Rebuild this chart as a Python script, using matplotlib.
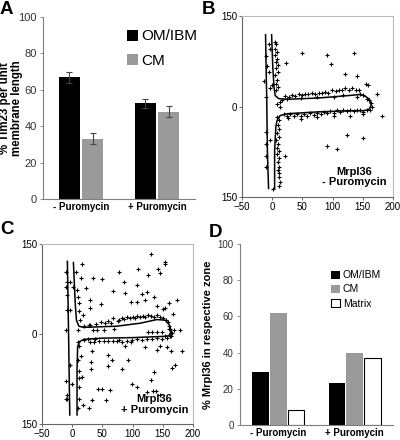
import matplotlib
matplotlib.use("Agg")
import matplotlib.pyplot as plt
from matplotlib.patches import Patch

plt.rcParams['font.family'] = ['Liberation Sans', 'DejaVu Sans']

# ---------------- data ----------------
groups = ['- Puromycin', '+ Puromycin']

# Panel A
a_series = ['OM/IBM', 'CM']
a_om = [67, 52.5]
a_om_err = [3, 2.5]
a_cm = [33, 48]
a_cm_err = [3, 3]

# Panel D
d_series = ['OM/IBM', 'CM', 'Matrix']
d_om = [29.5, 23]
d_cm = [62, 40]
d_mx = [8.5, 37]

# Panel B scatter (- Puromycin)
b_x = [-5, -3, -10, -9, -5, -13, -11, 0, -3,
       4, 7, 5, 8, 5, 8, 6, 9, 7, 10, 5, 8, 7, 10, 7, 23,
       -11, -10, -11, -10, -3,
       8, 11, 10, 12, 8, 11, 7, 10, 8, 11, 8, 11, 9, 12, 10, 12, 11, 13, 11, 1, 22,
       49, 90, 97, 136, 121, 141, 155, 158, 173, 181, 124, 150, 90, 108,
       22, 27, 33, 38, 44, 49, 55, 60, 66, 71, 77, 82, 88, 93, 99, 105, 110, 115, 121, 127,
       132, 138, 143, 146, 151, 157, 161, 164, 165, 162,
       25, 47, 74, 102, 118, 140, 16, 13, 13, 8,
       19, 25, 30, 36, 41, 47, 52, 58, 63, 69, 74, 80, 85, 91, 96, 102, 107, 113, 118, 124,
       129, 135, 140, 146, 151, 157,
       26, 47, 74, 102, 129, 151]
b_y = [104, 96, 83, 67, 57, 43, 16, 35, 30,
       107, 104, 96, 90, 85, 79, 74, 68, 63, 57, 52, 44, 38, 32, 27, 72,
       -42, -62, -82, -100, -56,
       -17, -23, -31, -37, -44, -51, -56, -62, -68, -74, -79, -86, -92, -100, -106, -111, -117, -125, -131, -136, -82,
       88, 86, 71, 89, 54, 50, 37, 35, 21, -16, -47, -52, -66, -71,
       17, 16, 19, 17, 20, 19, 21, 20, 22, 21, 23, 22, 24, 23, 27, 26, 28, 27, 30, 28,
       30, 27, 28, 21, 19, 13, 10, 5, -1, -5,
       12, 14, 15, 16, 19, 16, 10, 7, -1, 4,
       -13, -15, -12, -16, -13, -15, -12, -15, -11, -14, -11, -13, -9, -11, -7, -10, -6, -9, -6, -8,
       -5, -7, -5, -6, -9, -6,
       -19, -20, -17, -15, -15, -12]

# Panel B membrane outline
b_stem_x = [-11, -10, -9, -8, -6]
b_stem_y = [119, 60, 10, -73, -136]
b_cont_x = [-1, 1, 3, 5, 11, 25, 50, 75, 100, 125, 146, 154, 161, 164, 160, 151, 129,
            74, 25, 13, 8, 6, 4, 4]
b_cont_y = [119, 65, 32, 18, 13, 12, 13, 14, 16, 18, 20, 17, 12, 2, -5, -7, -7,
            -9, -12, -15, -23, -34, -73, -136]

# Panel C scatter (+ Puromycin)
c_x = [17, -10, 7, 15, -9, -4, 1, -11, 8, 23, 34, 49, 77, 67, -9, 10, 29, 48, 29, 11, -9, -4, 12, 18, 13, -10, 10,
       27, 48, 60, 67, 75, 34, 41, 52, 69,
       130, 153, 153, 109, 126, 142, 145, 86, 108, 88, 116, 124, 135, 98, 108, 121, 141, 153, 160, 173, 167, 150,
       77, 82, 86, 91, 95, 100, 104, 108, 112, 117, 121, 126, 130, 135, 140, 145, 150, 155, 158, 160, 162, 165, 163,
       126, 132, 140, 149, 160, 168, 179, 154, 164,
       20, 30, 40, 55, 65,
       -4, -10, 0, -9, -11, -8, 9, 12, 10, 12, 12, 11, 17, 18, 27, 32, 31, 31, 32, 43, 50, 63, 56, 59, 60, 66,
       36, 44, 52, 60, 67, 74, 12, 15, 10,
       83, 92, 99, 107, 124, 133, 139, 146, 136, 130, 166, 170, 182, 164, 140, 145, 157, 121, 88, 98,
       77, 83, 91, 99, 108, 116, 124, 132, 140, 149, 157, 162,
       19, 26, 30, 38]
c_y = [117, 103, 103, 94, 86, 86, 79, 78, 74, 76, 94, 92, 104, 71, 65, 62, 57, 50, 44, 52, 40, 40, 39, 31, 23, 6, 6,
       15, 20, 21, 26, 22, 7, 7, 7, 9,
       133, 120, 117, 108, 99, 108, 101, 86, 82, 69, 66, 70, 62, 53, 53, 57, 47, 44, 51, 56, 34, 41,
       24, 27, 25, 28, 26, 29, 27, 30, 28, 30, 29, 31, 30, 29, 31, 28, 27, 24, 20, 14, 8, 2, -3,
       4, 4, 4, 4, 9, 7, 7, -4, 1,
       14, 15, 16, 18, 19,
       -51, -78, -84, -101, -109, -109, -13, -108, -124, -74, -89, -62, -71, -118, -123, -28, -47, -58, -110, -92,
       -91, -93, -110, -54, -35, -43,
       -14, -12, -12, -12, -12, -12, -20, -36, -43,
       -58, -43, -84, -88, -96, -95, -95, -101, -63, -76, -57, -51, -29, -29, -27, -20, -21, -21, -20, -13,
       -10, -14, -12, -10, -9, -10, -8, -9, -7, -8, -6, -4,
       -10, -9, -13, -9]

# Panel C membrane outline
c_stem_x = [-8, -7, -6, -5, -4]
c_stem_y = [121, 60, 0, -70, -135]
c_cont_x = [2, 5, 7, 11, 19, 74, 113, 140, 154, 161, 164, 160, 151, 102, 47, 19, 12, 9, 8, 8]
c_cont_y = [119, 51, 23, 13, 11, 13, 18, 24, 23, 15, 4, -3, -4, -6, -7, -9, -13, -21, -60, -135]

GRAY = '#9a9a9a'
AXC = '#808080'

fig = plt.figure(figsize=(4.0, 4.4), dpi=100)

# ---------------- Panel A ----------------
axA = fig.add_axes([0.1075, 0.5477, 0.38, 0.4137])
xs = range(len(groups))
w = 0.28
off = 0.152
axA.bar([x - off for x in xs], a_om, w, color='black', yerr=a_om_err,
        error_kw=dict(ecolor='#444444', elinewidth=0.8, capsize=2, capthick=0.8))
axA.bar([x + off for x in xs], a_cm, w, color=GRAY, yerr=a_cm_err,
        error_kw=dict(ecolor='#444444', elinewidth=0.8, capsize=2, capthick=0.8))
axA.set_xlim(-0.5, 1.5)
axA.set_ylim(0, 100)
axA.set_yticks(range(0, 101, 20))
axA.set_xticks(list(xs))
axA.set_xticklabels(groups, fontsize=7, fontweight='bold')
axA.tick_params(axis='x', length=0, pad=2)
axA.tick_params(axis='y', labelsize=8, length=2.5, width=0.6, color=AXC, pad=2, labelcolor='#333333')
for s in ['top', 'right']:
    axA.spines[s].set_visible(False)
for s in ['left', 'bottom']:
    axA.spines[s].set_color(AXC)
    axA.spines[s].set_linewidth(0.8)
axA.set_ylabel('% Tim23 per unit\nmembrane length', fontsize=8.3, fontweight='bold',
               linespacing=1.0)
axA.yaxis.set_label_coords(-0.13, 0.5)
axA.legend(handles=[Patch(facecolor='black', label='OM/IBM'), Patch(facecolor=GRAY, label='CM')],
           loc='upper left', bbox_to_anchor=(0.48, 0.99), frameon=False, fontsize=11,
           handlelength=0.75, handleheight=0.75, handletextpad=0.2, labelspacing=0.7, borderpad=0.2)


def scatter_panel(ax, px, py, sx, sy, cx, cy, label):
    ax.plot(sx, sy, color='black', lw=1.1)
    ax.plot(cx, cy, color='black', lw=1.1)
    ax.plot(px, py, linestyle='none', marker='+', ms=2.6, mew=0.8, color='black')
    ax.set_xlim(-50, 200)
    ax.set_ylim(-150, 150)
    ax.set_xticks([-50, 0, 50, 100, 150, 200])
    ax.set_yticks([-150, 0, 150])
    ax.set_yticklabels(['150', '0', '150'])
    ax.tick_params(labelsize=7, length=2, width=0.6, pad=1.5, color='#555555')
    for s in ['top', 'right']:
        ax.spines[s].set_color('#bbbbbb')
        ax.spines[s].set_linewidth(0.8)
    for s in ['left', 'bottom']:
        ax.spines[s].set_color('#666666')
        ax.spines[s].set_linewidth(0.8)
    ax.text(0.745, 0.11, label, transform=ax.transAxes, ha='center', va='center',
            fontsize=8, fontweight='bold', linespacing=1.1)


# ---------------- Panel B ----------------
axB = fig.add_axes([0.605, 0.5523, 0.3775, 0.4113])
scatter_panel(axB, b_x, b_y, b_stem_x, b_stem_y, b_cont_x, b_cont_y, 'Mrpl36\n- Puromycin')

# ---------------- Panel C ----------------
axC = fig.add_axes([0.105, 0.0364, 0.3775, 0.4091])
scatter_panel(axC, c_x, c_y, c_stem_x, c_stem_y, c_cont_x, c_cont_y, 'Mrpl36\n+ Puromycin')

# ---------------- Panel D ----------------
axD = fig.add_axes([0.6, 0.0341, 0.3825, 0.4114])
wd = 0.22
od = 0.232
axD.bar([x - od for x in xs], d_om, wd, color='black')
axD.bar(list(xs), d_cm, wd, color=GRAY)
axD.bar([x + od for x in xs], d_mx, wd, color='white', edgecolor='black', linewidth=0.8)
axD.set_xlim(-0.5, 1.5)
axD.set_ylim(0, 100)
axD.set_yticks(range(0, 101, 20))
axD.set_xticks(list(xs))
axD.set_xticklabels(groups, fontsize=7, fontweight='bold')
axD.tick_params(axis='x', length=0, pad=2)
axD.tick_params(axis='y', labelsize=7, length=2.5, width=0.6, color=AXC, pad=2, labelcolor='#333333')
for s in ['top', 'right']:
    axD.spines[s].set_visible(False)
for s in ['left', 'bottom']:
    axD.spines[s].set_color(AXC)
    axD.spines[s].set_linewidth(0.8)
axD.set_ylabel('% Mrpl36 in respective zone', fontsize=8, fontweight='bold', labelpad=3)
axD.legend(handles=[Patch(facecolor='black', label='OM/IBM'), Patch(facecolor=GRAY, label='CM'),
                    Patch(facecolor='white', edgecolor='black', linewidth=0.8, label='Matrix')],
           loc='upper left', bbox_to_anchor=(0.55, 0.895), frameon=False, fontsize=7.5,
           handlelength=0.8, handleheight=0.8, handletextpad=0.3, labelspacing=0.4, borderpad=0.2)

# panel letters
for lab, x, y in [('A', 0.0, 0.998), ('B', 0.505, 0.998), ('C', 0.0, 0.498), ('D', 0.522, 0.492)]:
    fig.text(x, y, lab, fontsize=13.5, fontweight='bold', ha='left', va='top')

fig.savefig('out.png', dpi=100)
